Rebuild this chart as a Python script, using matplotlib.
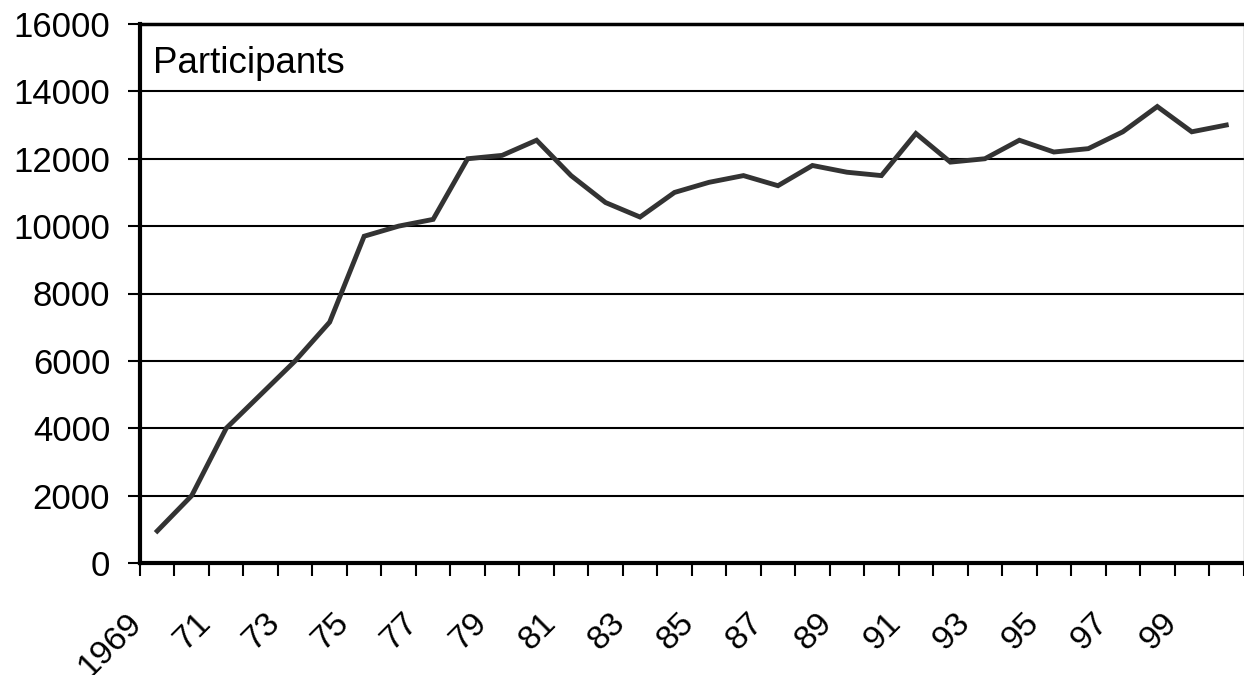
import numpy as np
import matplotlib
matplotlib.use('Agg')
import matplotlib.pyplot as plt
from matplotlib.transforms import ScaledTranslation

years = list(range(1969, 2001))
participants = [950, 2000, 4000, 5000, 6000, 7150, 9700, 10000, 10200, 12000,
                12100, 12550, 11500, 10700, 10270, 11000, 11300, 11500, 11200, 11800,
                11600, 11500, 12750, 11900, 12000, 12550, 12200, 12300, 12800, 13550,
                12800, 13000]
year_labels = ['1969', '71', '73', '75', '77', '79', '81', '83', '85', '87',
               '89', '91', '93', '95', '97', '99']
yticks = [0, 2000, 4000, 6000, 8000, 10000, 12000, 14000, 16000]

plt.rcParams['font.family'] = ['Liberation Sans', 'DejaVu Sans']

fig = plt.figure(figsize=(12.44, 6.75), dpi=100)
ax = fig.add_axes([140/1244, 112/675, 1103.5/1244, 539/675])

n = len(years)
xpos = np.arange(n) + 0.5
ax.plot(xpos, participants, color='#333333', lw=3.5, zorder=3, solid_joinstyle='miter')

ax.set_xlim(0, n)
ax.set_ylim(0, 16000)
ax.set_yticks(yticks)
ax.set_yticklabels([str(v) for v in yticks])
for v in yticks[1:-1]:
    ax.axhline(v, color='black', lw=1.5, zorder=1)

# category boundaries get the tick marks, centres get the labels
ax.set_xticks(np.arange(n + 1))
ax.set_xticklabels([])
ax.set_xticks(xpos[::2], minor=True)
ax.set_xticklabels(year_labels, minor=True, rotation=45, ha='right', va='center',
                   rotation_mode='anchor', fontsize=24.5)
ax.tick_params(axis='x', which='major', direction='out', length=9, width=1.5)
ax.tick_params(axis='x', which='minor', length=0, pad=40)
ax.tick_params(axis='y', direction='out', length=8.5, width=1.5, pad=13, labelsize=25)
off = ScaledTranslation(-0.20, 0, fig.dpi_scale_trans)
for lab in ax.get_xticklabels(minor=True):
    lab.set_transform(lab.get_transform() + off)

ax.spines['left'].set_linewidth(3)
ax.spines['bottom'].set_linewidth(3)
ax.spines['top'].set_linewidth(2.5)
ax.spines['right'].set_linewidth(1)
ax.spines['right'].set_color('#888888')
for s in ax.spines.values():
    s.set_zorder(4)

ax.text(0.012, 0.909, 'Participants', transform=ax.transAxes, fontsize=26.5,
        va='baseline', ha='left')

fig.savefig('out.png', dpi=100)
